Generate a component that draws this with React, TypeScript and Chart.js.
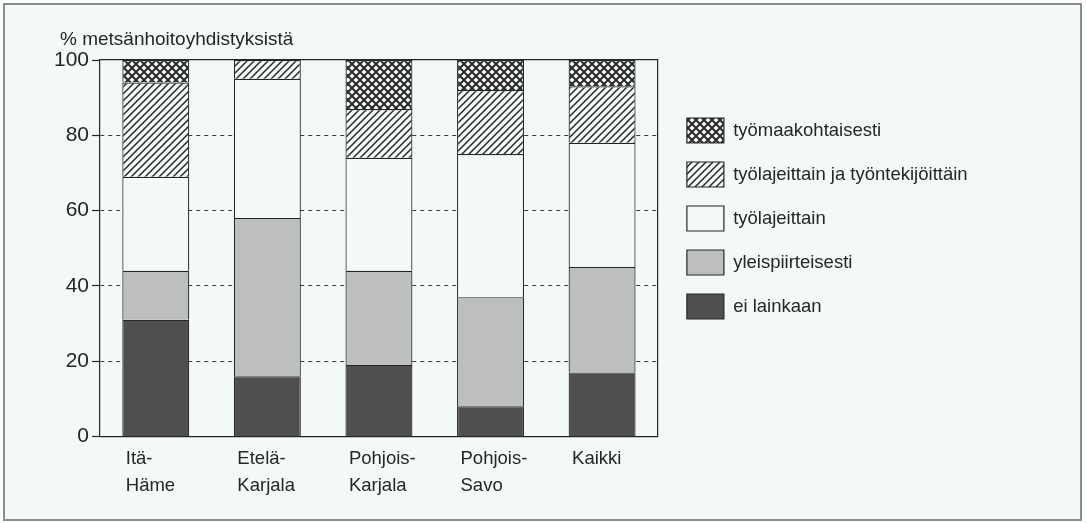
import React, { useEffect, useRef } from "react";
import { Chart, registerables } from "chart.js";

Chart.register(...registerables);

const categories: string[][] = [
  ["Itä-", "Häme"],
  ["Etelä-", "Karjala"],
  ["Pohjois-", "Karjala"],
  ["Pohjois-", "Savo"],
  ["Kaikki"],
];

const seriesNames = [
  "ei lainkaan",
  "yleispiirteisesti",
  "työlajeittain",
  "työlajeittain ja työntekijöittäin",
  "työmaakohtaisesti",
];

const eiLainkaan = [31, 16, 19, 8, 17];
const yleispiirteisesti = [13, 42, 25, 29, 28];
const tyolajeittain = [25, 37, 30, 38, 33];
const tyolajeittainJaTyontekijoittain = [25, 5, 13, 17, 15];
const tyomaakohtaisesti = [6, 0, 13, 8, 7];

const yAxisTitle = "% metsänhoitoyhdistyksistä";

const FONT = "'Liberation Sans', Arial, Helvetica, sans-serif";
const INK = "#262626";
const PAPER = "#f3f9f5";

function makeHatch(bg: string, fg: string, cross: boolean) {
  const s = cross ? 8 : 7;
  const c = document.createElement("canvas");
  c.width = s;
  c.height = s;
  const g = c.getContext("2d")!;
  g.fillStyle = bg;
  g.fillRect(0, 0, s, s);
  g.strokeStyle = fg;
  g.lineWidth = cross ? 2 : 1.5;
  g.beginPath();
  g.moveTo(-1, s + 1);
  g.lineTo(s + 1, -1);
  g.moveTo(-s / 2 - 1, s / 2 + 1);
  g.lineTo(s / 2 + 1, -s / 2 - 1);
  g.moveTo(s / 2 - 1, s * 1.5 + 1);
  g.lineTo(s * 1.5 + 1, s / 2 - 1);
  if (cross) {
    g.moveTo(-1, -1);
    g.lineTo(s + 1, s + 1);
    g.moveTo(-s / 2 - 1, s / 2 - 1);
    g.lineTo(s / 2 + 1, s * 1.5 + 1);
    g.moveTo(s / 2 - 1, -s / 2 - 1);
    g.lineTo(s * 1.5 + 1, s / 2 + 1);
  }
  g.stroke();
  return g.createPattern(c, "repeat")!;
}

const axisTitlePlugin = {
  id: "axisTitleTopLeft",
  afterDraw(chart: any) {
    const { ctx, chartArea } = chart;
    ctx.save();
    ctx.font = `19px ${FONT}`;
    ctx.fillStyle = INK;
    ctx.textAlign = "left";
    ctx.textBaseline = "alphabetic";
    ctx.fillText(yAxisTitle, chartArea.left - 40, chartArea.top - 15);
    ctx.restore();
  },
};

export default function App() {
  const ref = useRef<HTMLCanvasElement | null>(null);

  useEffect(() => {
    document.body.style.margin = "0";
    const canvas = ref.current!;
    const hatch = makeHatch(PAPER, "#2a2a2a", false);
    const crossHatch = makeHatch(PAPER, "#2a2a2a", true);

    const fills = ["#4f4f4f", "#bdbfbe", PAPER, hatch, crossHatch];
    const values = [
      eiLainkaan,
      yleispiirteisesti,
      tyolajeittain,
      tyolajeittainJaTyontekijoittain,
      tyomaakohtaisesti,
    ];

    const chart = new Chart(canvas, {
      type: "bar",
      data: {
        labels: categories,
        datasets: values.map((v, i) => ({
          label: seriesNames[i],
          data: v,
          backgroundColor: fills[i] as any,
          borderColor: INK,
          borderWidth: 1.2,
          barPercentage: 0.6,
          categoryPercentage: 1,
        })),
      },
      plugins: [axisTitlePlugin],
      options: {
        responsive: false,
        animation: false,
        devicePixelRatio: 1,
        layout: { padding: { left: 40, right: 108.4, top: 60, bottom: 14.4 } },
        plugins: {
          tooltip: { enabled: false },
          title: { display: false },
          legend: {
            display: true,
            position: "right",
            align: "start",
            reverse: true,
            maxWidth: 340,
            title: {
              display: true,
              text: "",
              padding: { top: 29, bottom: 0 },
              font: { size: 10, lineHeight: 1 },
            },
            labels: {
              boxWidth: 37,
              boxHeight: 25,
              padding: 19,
              color: INK,
              font: { family: FONT, size: 18.5 },
            },
          },
        },
        scales: {
          x: {
            type: "category",
            stacked: true,
            offset: true,
            grid: { display: false, drawTicks: false },
            border: { display: true, color: INK, width: 1.2 },
            ticks: {
              autoSkip: false,
              maxRotation: 0,
              minRotation: 0,
              align: "start",
              labelOffset: -30,
              padding: 9.6,
              color: INK,
              font: { family: FONT, size: 18.5, lineHeight: 26.5 / 18.5 },
            },
          },
          x2: {
            type: "linear",
            position: "top",
            display: true,
            grid: { display: false, drawTicks: false },
            ticks: { display: false },
            border: { display: true, color: INK, width: 1.2 },
          },
          y: {
            type: "linear",
            stacked: true,
            min: 0,
            max: 100,
            afterFit: (s: any) => {
              s.width = 60;
            },
            ticks: {
              stepSize: 20,
              padding: 3,
              color: INK,
              font: { family: FONT, size: 21 },
            },
            grid: {
              color: (c: any) =>
                c.tick && (c.tick.value === 0 || c.tick.value === 100)
                  ? "rgba(0,0,0,0)"
                  : "#3a3a3a",
              lineWidth: 1,
              tickLength: 8,
              tickColor: INK,
              tickWidth: 1.2,
              drawTicks: true,
            },
            border: { display: true, color: INK, width: 1.2, dash: [4, 4] },
          },
          y2: {
            type: "linear",
            position: "right",
            min: 0,
            max: 100,
            display: true,
            afterFit: (s: any) => {
              s.width = 10;
            },
            grid: { display: false, drawTicks: false },
            ticks: { display: false },
            border: { display: true, color: INK, width: 1.2 },
          },
        },
      },
    });
    return () => chart.destroy();
  }, []);

  return (
    <div style={{ position: "relative", width: 1086, height: 523, background: "#fbfdfc" }}>
      <div
        style={{
          position: "absolute",
          left: 3,
          top: 3,
          width: 1079,
          height: 518,
          boxSizing: "border-box",
          border: "2px solid #8c8c8c",
          background: PAPER,
        }}
      />
      <canvas
        ref={ref}
        width={1086}
        height={523}
        style={{ position: "absolute", left: 0, top: 0, width: 1086, height: 523 }}
      />
    </div>
  );
}
